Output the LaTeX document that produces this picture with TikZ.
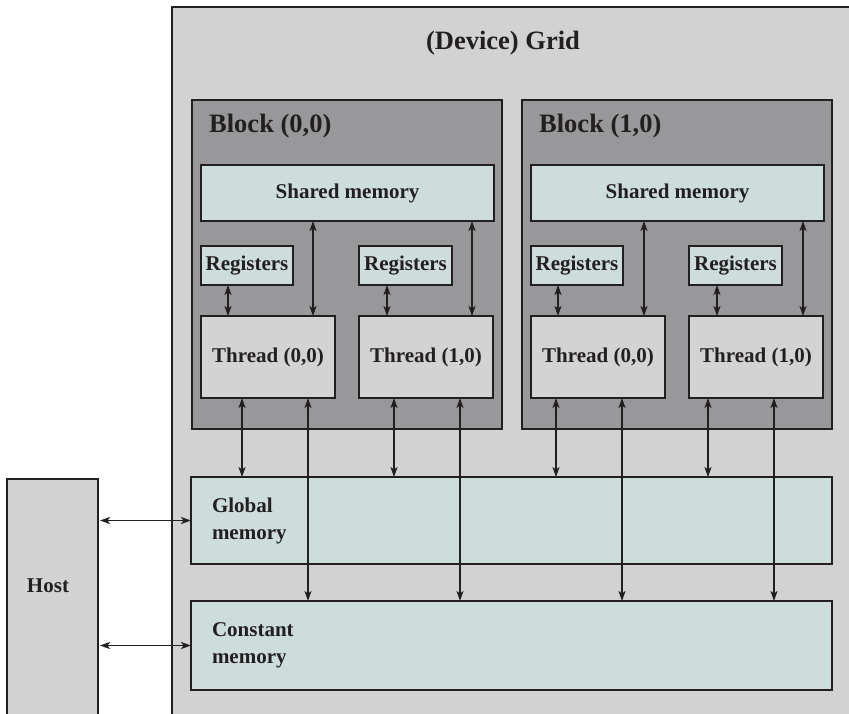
\documentclass[tikz,border=0pt]{standalone}
\usepackage{fontspec}
\setmainfont{Liberation Serif}
\usetikzlibrary{arrows.meta}
\definecolor{gridgray}{RGB}{210,210,210}
\definecolor{blockgray}{RGB}{152,152,155}
\definecolor{memteal}{RGB}{205,221,220}
\definecolor{threadgray}{RGB}{211,211,211}
\definecolor{edge}{RGB}{35,31,32}
\begin{document}
\begin{tikzpicture}[x=1pt,y=-1pt,
  >={Stealth[length=10pt,width=7pt,inset=2.5pt]},
  box/.style={draw=edge,line width=2.2pt,outer sep=0pt,inner sep=0pt,anchor=north west,
    text=edge,font=\fontsize{21}{27}\selectfont\bfseries},
  mem/.style={box,fill=memteal},
  blk/.style={box,fill=blockgray},
  thr/.style={box,fill=threadgray},
  big/.style={text=edge,inner sep=0pt,font=\fontsize{26.5}{30}\selectfont\bfseries},
  link/.style={<->,draw=edge,line width=1.8pt}]
  \useasboundingbox (0,0) rectangle (849,713);
  \clip (0,0) rectangle (849,713);
  % grid and host
  \node[box,fill=gridgray,minimum width=720,minimum height=740] (grid) at (172,7) {};
  \node[big,anchor=base] (gridlbl) at (503,49) {(Device) Grid};
  \node[thr,minimum width=91,minimum height=260] (host) at (7,479) {};
  \node[text=edge,font=\fontsize{21}{27}\selectfont\bfseries] (hostlbl) at (48,586) {Host};
  % blocks
  \node[blk,minimum width=310,minimum height=329] (blk0) at (192,100) {};
  \node[blk,minimum width=310,minimum height=329] (blk1) at (522,100) {};
  \node[big,anchor=base west] (blk0lbl) at (209,132) {Block (0,0)};
  \node[big,anchor=base west] (blk1lbl) at (539,132) {Block (1,0)};
  \node[mem,minimum width=293,minimum height=56] (sh0) at (201,165) {Shared memory};
  \node[mem,minimum width=293,minimum height=56] (sh1) at (531,165) {Shared memory};
  \node[mem,minimum width=92,minimum height=39] (reg00) at (201,246) {Registers};
  \node[mem,minimum width=93,minimum height=39] (reg01) at (359,246) {Registers};
  \node[mem,minimum width=92,minimum height=39] (reg10) at (531,246) {Registers};
  \node[mem,minimum width=93,minimum height=39] (reg11) at (689,246) {Registers};
  \node[thr,minimum width=134,minimum height=82] (th00) at (201,316) {Thread (0,0)};
  \node[thr,minimum width=134,minimum height=82] (th01) at (359,316) {Thread (1,0)};
  \node[thr,minimum width=134,minimum height=82] (th10) at (531,316) {Thread (0,0)};
  \node[thr,minimum width=134,minimum height=82] (th11) at (689,316) {Thread (1,0)};
  % global and constant memory
  \node[mem,minimum width=641,minimum height=87,inner xsep=21pt,text width=599pt,align=left] (glob) at (191,477) {Global\\memory};
  \node[mem,minimum width=641,minimum height=89,inner xsep=21pt,text width=599pt,align=left] (const) at (191,601) {Constant\\memory};
  % thread <-> registers, shared memory
  \coordinate (r00) at ([xshift=27pt]th00.north west);
  \coordinate (r01) at ([xshift=28pt]th01.north west);
  \coordinate (r10) at ([xshift=27pt]th10.north west);
  \coordinate (r11) at ([xshift=28pt]th11.north west);
  \draw[link] (r00 |- reg00.south) -- (r00);
  \draw[link] (r01 |- reg01.south) -- (r01);
  \draw[link] (r10 |- reg10.south) -- (r10);
  \draw[link] (r11 |- reg11.south) -- (r11);
  \coordinate (s00) at ([xshift=112pt]th00.north west);
  \coordinate (s01) at ([xshift=113pt]th01.north west);
  \coordinate (s10) at ([xshift=113pt]th10.north west);
  \coordinate (s11) at ([xshift=114pt]th11.north west);
  \draw[link] (s00 |- sh0.south) -- (s00);
  \draw[link] (s01 |- sh0.south) -- (s01);
  \draw[link] (s10 |- sh1.south) -- (s10);
  \draw[link] (s11 |- sh1.south) -- (s11);
  % thread <-> global, constant memory
  \coordinate (g00) at ([xshift=41pt]th00.south west);
  \coordinate (g01) at ([xshift=35pt]th01.south west);
  \coordinate (g10) at ([xshift=25pt]th10.south west);
  \coordinate (g11) at ([xshift=19pt]th11.south west);
  \draw[link] (g00) -- (g00 |- glob.north);
  \draw[link] (g01) -- (g01 |- glob.north);
  \draw[link] (g10) -- (g10 |- glob.north);
  \draw[link] (g11) -- (g11 |- glob.north);
  \coordinate (c00) at ([xshift=107pt]th00.south west);
  \coordinate (c01) at ([xshift=101pt]th01.south west);
  \coordinate (c10) at ([xshift=91pt]th10.south west);
  \coordinate (c11) at ([xshift=85pt]th11.south west);
  \draw[link] (c00) -- (c00 |- const.north);
  \draw[link] (c01) -- (c01 |- const.north);
  \draw[link] (c10) -- (c10 |- const.north);
  \draw[link] (c11) -- (c11 |- const.north);
  % host
  \draw[link] ([xshift=2pt]host.east |- glob.west) -- (glob.west);
  \draw[link] ([xshift=2pt]host.east |- const.west) -- (const.west);
\end{tikzpicture}
\end{document}
